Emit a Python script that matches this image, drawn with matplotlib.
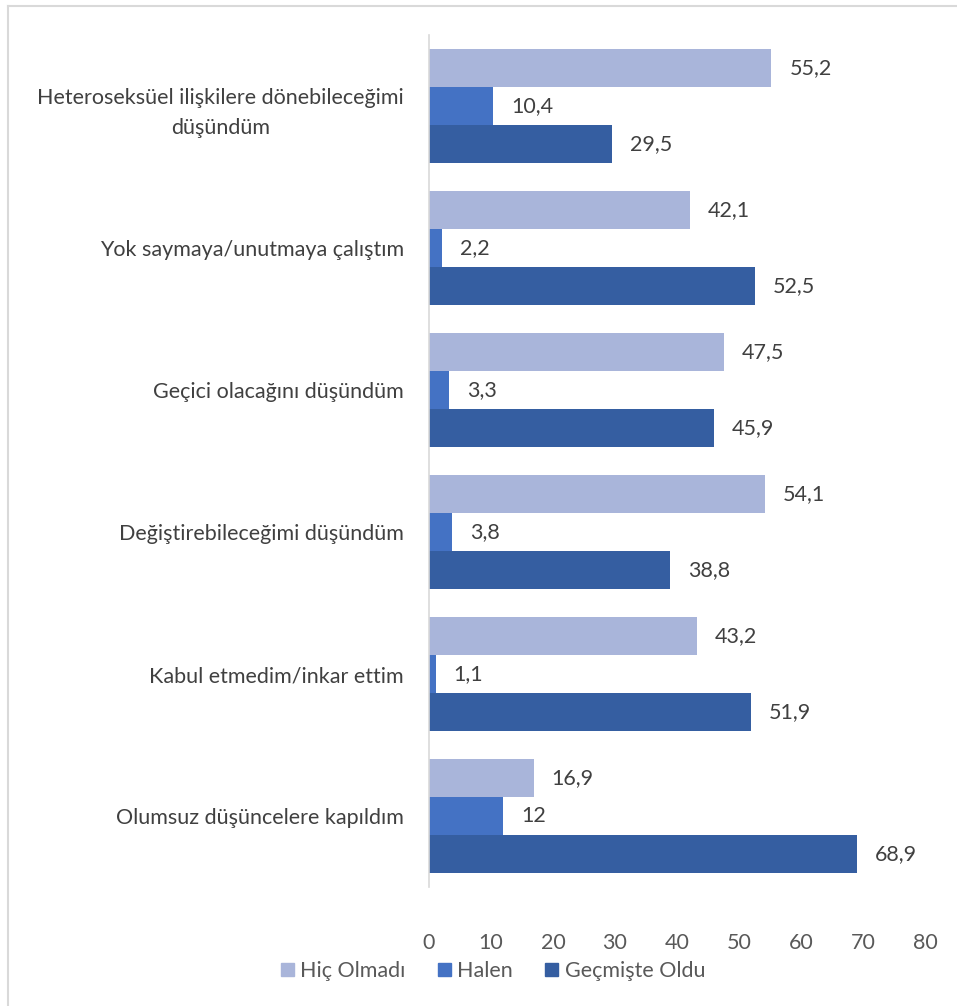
import numpy as np
import matplotlib.pyplot as plt
from matplotlib.lines import Line2D

plt.rcParams['font.family'] = ['Lato', 'DejaVu Sans']

categories = [
    'Heteroseksüel ilişkilere dönebileceğimi\ndüşündüm',
    'Yok saymaya/unutmaya çalıştım',
    'Geçici olacağını düşündüm',
    'Değiştirebileceğimi düşündüm',
    'Kabul etmedim/inkar ettim',
    'Olumsuz düşüncelere kapıldım',
]
hic_olmadi = [55.2, 42.1, 47.5, 54.1, 43.2, 16.9]
halen = [10.4, 2.2, 3.3, 3.8, 1.1, 12]
gecmiste = [29.5, 52.5, 45.9, 38.8, 51.9, 68.9]

series = [('Hiç Olmadı', hic_olmadi, '#a9b5da'),
          ('Halen', halen, '#4472c4'),
          ('Geçmişte Oldu', gecmiste, '#355ea1')]

FS = 15.5


def fmt(v):
    s = ('%g' % v).replace('.', ',')
    return s


fig = plt.figure(figsize=(9.57, 10.06), dpi=100)
ax = fig.add_axes([0.448, 0.118, 0.519, 0.847])

h = 0.268
y = np.arange(len(categories))
for i, (name, vals, col) in enumerate(series):
    pos = y + (i - 1) * h
    ax.barh(pos, vals, height=h, color=col, label=name)
    for p, v in zip(pos, vals):
        ax.text(v + 2.9, p, fmt(v), va='center', ha='left',
                fontsize=FS, color='#404040')

ax.set_ylim(len(categories) - 0.5, -0.5)
ax.set_xlim(0, 80)
ax.set_xticks(range(0, 81, 10))
ax.set_yticks(y)
ax.set_yticklabels(categories, ha='right', multialignment='center', linespacing=1.6)
ax.tick_params(axis='y', length=0, pad=18, labelsize=FS, labelcolor='#404040')
ax.tick_params(axis='x', length=0, pad=33, labelsize=FS, labelcolor='#595959')
for s in ['top', 'right', 'bottom']:
    ax.spines[s].set_visible(False)
ax.spines['left'].set_color('#d9d9d9')
ax.spines['left'].set_linewidth(1.2)

handles = [plt.Rectangle((0, 0), 1, 1, color=c) for _, _, c in series]
fig.legend(handles, [n for n, _, _ in series], loc='center',
           bbox_to_anchor=(493 / 957, 1 - 971 / 1006), ncol=3, frameon=False,
           fontsize=FS, handlelength=0.6, handleheight=0.6, handletextpad=0.3,
           columnspacing=1.5, labelcolor='#595959')

# thin frame visible on left and top
fig.add_artist(Line2D([8 / 957, 8 / 957], [0, 1 - 6 / 1006], color='#d9d9d9', lw=1.5))
fig.add_artist(Line2D([8 / 957, 1], [1 - 6 / 1006, 1 - 6 / 1006], color='#d9d9d9', lw=1.5))

fig.savefig('out.png', dpi=100)
